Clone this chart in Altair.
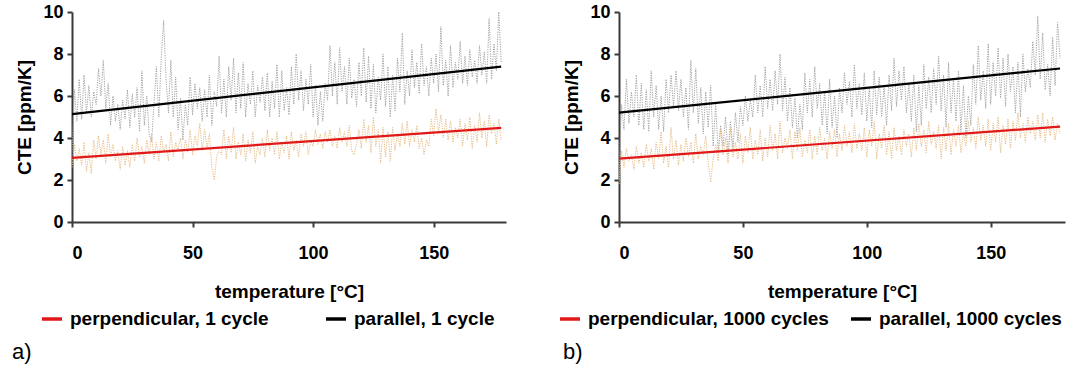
import altair as alt
import pandas as pd

T = list(range(0, 179))

# panel a) 1 cycle  (measured CTE, ppm/K)
a_parallel = [
    3.2, 6.3, 4.8, 6.8, 4.9, 7.0, 5.2, 6.5, 5.0, 6.2,
    5.6, 7.3, 6.0, 7.7, 5.4, 6.6, 4.6, 6.0, 4.8, 5.6,
    4.4, 5.8, 4.9, 6.3, 4.5, 6.1, 5.0, 6.4, 4.3, 7.2,
    4.6, 6.0, 4.2, 3.8, 5.6, 7.4, 5.0, 7.8, 9.6, 6.8,
    5.2, 7.7, 5.0, 6.9, 4.4, 5.9, 3.9, 5.6, 4.6, 6.9,
    5.1, 6.6, 5.4, 6.4, 4.8, 6.3, 5.0, 7.0, 4.6, 6.2,
    5.5, 7.9, 5.2, 6.8, 5.0, 7.4, 5.8, 7.8, 5.2, 7.1,
    5.4, 7.6, 5.0, 6.6, 5.6, 7.2, 5.0, 6.5, 5.7, 6.9,
    5.3, 7.1, 5.0, 6.7, 5.4, 7.5, 5.0, 7.2, 5.3, 6.4,
    5.1, 7.4, 5.6, 8.0, 5.8, 7.2, 5.3, 6.8, 5.6, 7.5,
    5.0, 6.5, 4.6, 6.2, 4.8, 6.6, 5.8, 8.4, 6.0, 7.6,
    5.6, 8.3, 6.2, 7.4, 5.6, 7.8, 5.9, 6.8, 5.5, 7.6,
    6.0, 8.3, 5.7, 7.9, 5.4, 7.5, 5.2, 6.9, 5.8, 8.0,
    5.5, 7.4, 5.0, 7.0, 5.3, 7.8, 6.2, 9.0, 5.6, 7.2,
    6.0, 8.2, 6.4, 7.6, 6.1, 8.5, 6.5, 7.4, 6.0, 7.8,
    6.6, 8.0, 6.2, 9.3, 6.5, 7.7, 6.0, 8.4, 6.4, 7.6,
    6.8, 8.6, 6.6, 7.9, 6.5, 8.2, 6.9, 7.7, 6.6, 8.4,
    7.0, 8.1, 6.6, 9.7, 6.8, 8.5, 7.2, 10.0, 7.6,
]
a_perpendicular = [
    2.6, 3.7, 2.9, 3.5, 2.7, 3.8, 2.4, 3.3, 2.3, 3.9,
    3.0, 4.1, 3.2, 3.9, 2.8, 4.2, 3.1, 3.7, 2.9, 3.4,
    2.5, 3.6, 2.7, 3.4, 2.6, 3.7, 2.9, 4.0, 3.1, 3.6,
    2.8, 3.9, 3.2, 4.2, 3.0, 3.8, 2.9, 4.1, 3.3, 3.7,
    2.9, 4.3, 3.1, 3.8, 3.4, 4.0, 3.0, 3.9, 3.3, 4.4,
    3.2, 4.1, 3.6, 4.7, 3.4, 4.4, 3.5, 4.2, 2.6, 2.0,
    3.1, 3.4, 3.2, 4.4, 3.0, 4.1, 3.3, 4.5, 3.0, 3.8,
    3.2, 4.2, 2.9, 3.9, 3.3, 4.3, 2.8, 3.6, 3.2, 4.0,
    3.1, 4.4, 3.4, 4.0, 3.2, 4.3, 3.0, 3.8, 3.3, 4.1,
    3.0, 4.3, 3.4, 3.9, 3.1, 4.2, 3.6, 4.3, 3.2, 3.9,
    3.6, 4.4, 3.7, 4.2, 3.5, 4.3, 3.8, 4.4, 3.6, 4.1,
    3.5, 4.5, 3.8, 4.3, 3.6, 4.6, 3.4, 3.2, 3.7, 4.4,
    3.5, 4.9, 3.8, 4.6, 3.3, 5.0, 3.6, 4.4, 2.8, 4.5,
    3.1, 4.3, 2.9, 4.5, 3.4, 4.2, 3.6, 4.7, 3.7, 4.8,
    3.6, 4.4, 3.8, 4.6, 3.5, 4.0, 3.2, 3.9, 3.6, 4.9,
    4.1, 5.4, 4.3, 5.1, 4.0, 4.9, 3.9, 4.8, 3.8, 4.5,
    4.0, 4.9, 3.6, 4.7, 3.9, 5.0, 3.5, 4.6, 3.8, 5.2,
    4.0, 4.8, 3.6, 5.1, 4.2, 4.7, 3.7, 4.9, 3.9,
]

# panel b) 1000 cycles
b_parallel = [
    2.0, 5.6, 4.4, 6.8, 4.7, 6.2, 5.0, 7.0, 4.6, 6.6,
    4.4, 6.3, 4.3, 7.2, 5.0, 6.5, 4.4, 6.0, 4.3, 6.8,
    5.2, 7.0, 5.5, 7.2, 5.3, 6.8, 5.0, 6.4, 4.4, 7.7,
    5.2, 7.3, 4.7, 6.4, 4.2, 6.2, 4.5, 6.5, 3.6, 5.6,
    3.3, 4.6, 3.6, 5.0, 3.2, 4.8, 3.5, 5.2, 3.8, 5.5,
    4.6, 6.0, 4.8, 5.8, 5.0, 7.0, 5.2, 6.5, 5.0, 7.4,
    5.4, 6.8, 5.3, 7.2, 5.6, 8.0, 5.3, 6.9, 4.8, 6.4,
    4.5, 5.9, 4.0, 5.6, 4.4, 7.1, 5.2, 6.8, 5.0, 7.4,
    5.4, 6.6, 4.6, 6.2, 4.2, 6.8, 4.5, 6.0, 4.0, 6.4,
    5.2, 7.1, 5.6, 6.7, 5.0, 7.5, 5.4, 6.6, 5.1, 7.1,
    4.8, 6.4, 4.5, 7.2, 5.1, 6.9, 5.0, 6.5, 4.6, 7.0,
    5.3, 7.8, 5.5, 7.2, 5.8, 7.4, 5.2, 6.6, 4.8, 7.0,
    4.3, 6.5, 4.6, 7.5, 5.4, 6.9, 5.2, 7.3, 5.6, 7.9,
    5.3, 7.0, 4.5, 7.6, 5.2, 6.8, 4.8, 7.2, 4.3, 6.5,
    4.0, 6.0, 4.6, 7.5, 5.6, 8.4, 5.8, 7.2, 5.4, 8.5,
    5.6, 7.6, 6.0, 8.3, 5.9, 7.8, 5.5, 8.0, 6.2, 7.4,
    5.2, 7.6, 5.0, 8.0, 6.2, 7.3, 6.4, 8.6, 7.0, 9.8,
    6.8, 9.0, 6.3, 7.5, 6.0, 8.8, 6.5, 9.5, 7.8,
]
b_perpendicular = [
    1.8, 3.4, 2.6, 3.5, 2.9, 3.2, 2.5, 3.6, 2.8, 3.3,
    2.6, 3.7, 2.9, 3.5, 2.5, 3.8, 3.0, 4.3, 2.8, 3.6,
    2.6, 4.5, 3.0, 3.9, 2.7, 3.7, 2.9, 4.0, 3.1, 3.8,
    2.8, 4.2, 3.0, 3.6, 3.2, 4.1, 2.8, 1.9, 3.0, 3.7,
    2.9, 4.4, 3.2, 4.0, 2.8, 4.5, 3.1, 3.8, 3.0, 4.2,
    2.8, 4.1, 3.3, 4.5, 3.0, 3.9, 3.2, 4.4, 2.9, 4.0,
    3.1, 4.6, 3.4, 4.2, 3.0, 4.8, 3.3, 4.0, 3.5, 4.4,
    3.0, 4.3, 3.4, 4.5, 3.1, 3.9, 3.3, 4.4, 3.0, 4.1,
    3.2, 4.5, 3.4, 4.0, 3.0, 4.3, 3.5, 4.4, 3.1, 4.2,
    3.4, 4.6, 3.6, 4.3, 3.3, 4.7, 3.5, 4.2, 3.4, 4.5,
    3.1, 4.4, 3.6, 4.8, 3.0, 4.2, 3.5, 4.6, 3.2, 4.3,
    3.0, 4.5, 3.4, 4.1, 3.2, 4.4, 3.6, 4.2, 3.1, 4.5,
    3.4, 4.7, 3.6, 4.4, 3.3, 4.8, 3.7, 4.3, 3.5, 4.6,
    3.0, 4.5, 3.4, 4.7, 3.2, 4.4, 3.6, 4.6, 3.3, 4.2,
    3.6, 4.8, 3.8, 4.5, 3.5, 5.0, 3.9, 4.6, 3.6, 4.9,
    3.4, 4.7, 3.8, 5.0, 3.3, 4.6, 3.7, 4.9, 3.5, 4.8,
    3.9, 5.2, 4.0, 4.7, 3.8, 5.0, 4.2, 4.8, 3.9, 5.1,
    4.0, 5.2, 3.8, 4.9, 4.1, 5.0, 3.9, 4.7, 4.2,
]

# linear fits: value at start and end temperature
fit_T = [0, 178]
a_fit_perpendicular = [3.05, 4.48]
a_fit_parallel = [5.14, 7.40]
b_fit_perpendicular = [3.02, 4.54]
b_fit_parallel = [5.21, 7.31]

FONT = "Liberation Sans"


def panel(par, perp, fit_par, fit_perp, lab_perp, lab_par, letter, width,
          leg_x, col_pad, letter_x):
    x_enc = alt.X("T:Q", scale=alt.Scale(domain=[0, 180], nice=False),
                  axis=alt.Axis(values=[0, 50, 100, 150], title="temperature [°C]",
                                labelPadding=17, titlePadding=20))
    y_enc = alt.Y("v:Q", scale=alt.Scale(domain=[0, 10], nice=False),
                  axis=alt.Axis(values=[0, 2, 4, 6, 8, 10], title="CTE [ppm/K]",
                                labelPadding=4, titlePadding=8))
    d_par = pd.DataFrame({"T": T, "v": par})
    d_perp = pd.DataFrame({"T": T, "v": perp})
    noisy_par = alt.Chart(d_par).mark_line(
        color="#a2a2a2", strokeWidth=1, strokeDash=[1.2, 1.2]
    ).encode(x=x_enc, y=y_enc)
    noisy_perp = alt.Chart(d_perp).mark_line(
        color="#e6bb84", strokeWidth=1, strokeDash=[1.2, 1.2]
    ).encode(x="T:Q", y="v:Q")
    d_fit = pd.DataFrame({
        "T": fit_T + fit_T,
        "v": fit_perp + fit_par,
        "s": [lab_perp] * 2 + [lab_par] * 2,
    })
    fits = alt.Chart(d_fit).mark_line(strokeWidth=2.2).encode(
        x="T:Q", y="v:Q",
        color=alt.Color("s:N", scale=alt.Scale(domain=[lab_perp, lab_par],
                                               range=["#e01818", "#000000"]),
                        legend=alt.Legend(title=None, orient="none", direction="horizontal",
                                          legendX=leg_x, legendY=295, columns=2,
                                          gridAlign="all", columnPadding=col_pad,
                                          symbolType="stroke", symbolSize=400,
                                          symbolStrokeWidth=3.5, labelFont=FONT,
                                          labelFontSize=19, labelFontWeight="bold",
                                          labelColor="#000", labelLimit=400,
                                          labelOffset=6)),
    )
    txt = alt.Chart(pd.DataFrame({"t": [letter]})).mark_text(
        font=FONT, fontSize=22, align="left", baseline="alphabetic", color="#000"
    ).encode(text="t:N", x=alt.value(letter_x), y=alt.value(347))
    return alt.layer(noisy_par, noisy_perp, fits, txt).properties(width=width, height=210)


pa = panel(a_parallel, a_perpendicular, a_fit_parallel, a_fit_perpendicular,
           "perpendicular, 1 cycle", "parallel, 1 cycle", "a)", 434, -32, 50, -60)
pb = panel(b_parallel, b_perpendicular, b_fit_parallel, b_fit_perpendicular,
           "perpendicular, 1000 cycles", "parallel, 1000 cycles", "b)", 446, -61, 15, -56)

chart = alt.hconcat(pa, pb, spacing=52).resolve_scale(color="independent").resolve_legend(
    color="independent"
).properties(
    padding={"left": 12, "top": 3, "right": 5, "bottom": 3},
    background="white",
).configure_view(stroke=None).configure_axis(
    grid=False, domainColor="#3a3a3a", domainWidth=2, tickColor="#3a3a3a", tickWidth=2,
    tickSize=5, labelFont=FONT, labelFontSize=18, labelFontWeight="bold", labelColor="#000",
    titleFont=FONT, titleFontSize=19, titleFontWeight="bold", titleColor="#000",
)

chart.save("out.html", embed_options={"renderer": "svg", "actions": False})
